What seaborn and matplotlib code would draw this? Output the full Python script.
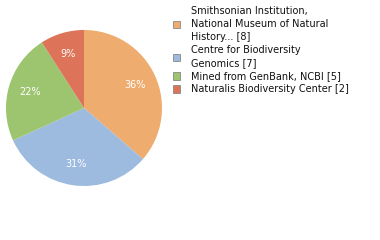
import matplotlib
matplotlib.use("Agg")
import matplotlib.pyplot as plt
from matplotlib.patches import Patch
import seaborn as sns

sources = ["Smithsonian Institution,\nNational Museum of Natural\nHistory... [8]",
           "Centre for Biodiversity\nGenomics [7]",
           "Mined from GenBank, NCBI [5]",
           "Naturalis Biodiversity Center [2]"]
counts = [8, 7, 5, 2]
colors = ["#EEAD6F", "#9DBADF", "#9DC570", "#DD7358"]

sns.set_style("white")
plt.rcParams["font.family"] = ["DejaVu Sans"]

fig = plt.figure(figsize=(3.8, 2.4), dpi=100)
ax = fig.add_axes([6 / 380, 54 / 240, 156 / 380, 156 / 240])
wedges, texts, autotexts = ax.pie(
    counts, colors=colors, startangle=90, counterclock=False,
    autopct=lambda p: f"{int(p)}%", pctdistance=0.72,
    wedgeprops=dict(linewidth=0),
    textprops=dict(color="white", fontsize=7))
ax.set_xlim(-1, 1)
ax.set_ylim(-1, 1)
ax.set_aspect("equal")

handles = [Patch(facecolor=c, edgecolor="#888888", linewidth=0.6) for c in colors]
leg = fig.legend(handles, sources, loc="upper left", bbox_to_anchor=(173 / 380, 1 - 6 / 240),
                 frameon=False, fontsize=7, handlelength=0.75, handleheight=0.75,
                 handletextpad=1.1, labelspacing=0.3, borderaxespad=0, borderpad=0)
for t in leg.get_texts():
    t.set_color("#111111")
    t.set_linespacing(1.4)

fig.savefig("out.png", dpi=100)
